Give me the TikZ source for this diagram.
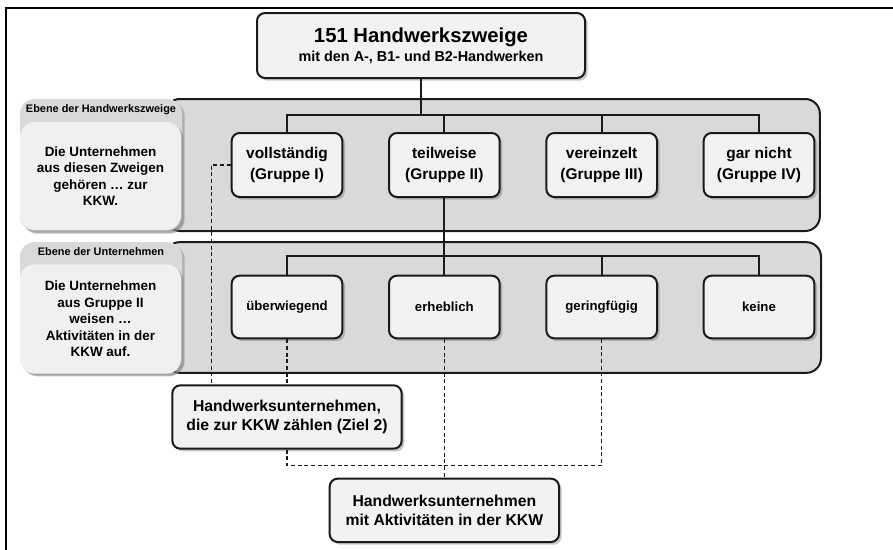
\documentclass[tikz,border=0pt]{standalone}
\usepackage{fontspec}
\setmainfont{Liberation Sans}
\usepackage{tikz}
\usetikzlibrary{positioning,shadows}
\definecolor{bandgray}{HTML}{D9D9D9}
\definecolor{boxgray}{HTML}{F2F2F2}
\definecolor{infogray}{HTML}{F0F0F0}
\definecolor{edge}{HTML}{1A1A1A}
\tikzset{
node distance=118pt, % spacing of the boxes in a row
boxshadow/.style={drop shadow={opacity=0.45,shadow xshift=2pt,shadow yshift=-2pt}},
box/.style={draw=edge, line width=1.5pt, rounded corners=6pt, fill=boxgray, boxshadow, align=center, inner sep=0pt, font=\bfseries},
grp/.style={box, minimum width=83pt, minimum height=48pt, font=\bfseries\fontsize{11.6}{15.5}\selectfont},
firm/.style={box, minimum width=83pt, minimum height=47pt, font=\bfseries\fontsize{9.9}{12}\selectfont},
goal/.style={box, minimum width=172pt, minimum height=47.5pt, font=\bfseries\fontsize{11.8}{14.2}\selectfont},
band/.style={draw=edge, line width=1.5pt, rounded corners=11pt, fill=bandgray, inner sep=0pt},
tab/.style={fill=bandgray, rounded corners=11pt, inner sep=0pt, boxshadow},
info/.style={fill=infogray, rounded corners=11pt, inner sep=0pt, boxshadow, align=center, font=\bfseries\fontsize{10.1}{12.4}\selectfont},
lab/.style={font=\bfseries\fontsize{8.2}{9}\selectfont, inner sep=0pt},
line/.style={draw=edge, line width=1.3pt},
dashline/.style={draw=edge, line width=1.2pt, dash pattern=on 3pt off 2pt},
frame/.style={draw=black, line width=1.5pt},
}
\begin{document}
\begin{tikzpicture}[x=0.75pt,y=-0.75pt,on grid]
		\useasboundingbox (0,0) rectangle (893,550);
		\draw[frame] (6,550) |- (893,8);
		% Ebenen
		\node[band, minimum width=491pt, minimum height=99pt] (band1) at (492.5,165) {};
		\node[tab, minimum width=121.5pt, minimum height=99pt] (tab1) at (101,165) {};
		\node[info, minimum width=120.75pt, minimum height=81pt] (info1) at (100.5,176)
			{Die Unternehmen\\aus diesen Zweigen\\gehören … zur\\KKW.};
		\node[lab] (lab1) at (101,110) {Ebene der Handwerkszweige};
		\node[band, minimum width=492pt, minimum height=98pt] (band2) at (493,307.5) {};
		\node[tab, minimum width=121.5pt, minimum height=98pt] (tab2) at (101,307.5) {};
		\node[info, minimum width=120.75pt, minimum height=82pt] (info2) at (100.5,319)
			{Die Unternehmen\\aus Gruppe II\\weisen …\\Aktivitäten in der\\KKW auf.};
		\node[lab] (lab2) at (101,252) {Ebene der Unternehmen};
		% Kaesten
		\node[box, minimum width=246pt, minimum height=48.75pt] (top) at (421,45.5)
			{{\fontsize{15.2}{18}\selectfont 151 Handwerkszweige}\\[2pt]{\fontsize{10.8}{12}\selectfont mit den A-, B1- und B2-Handwerken}};
		\node[grp] (g1) at (287,165) {vollständig\\(Gruppe I)};
		\node[grp] (g2) [right=of g1] {teilweise\\(Gruppe II)};
		\node[grp] (g3) [right=of g2] {vereinzelt\\(Gruppe III)};
		\node[grp] (g4) [right=of g3] {gar nicht\\(Gruppe IV)};
		\node[firm] (u1) [below=106.5pt of g1] {überwiegend};
		\node[firm] (u2) [right=of u1] {erheblich};
		\node[firm] (u3) [right=of u2] {geringfügig};
		\node[firm] (u4) [right=of u3] {keine};
		\node[goal] (ziel) [below=82.5pt of u1] {Handwerksunternehmen,\\die zur KKW zählen (Ziel 2)};
		\node[goal] (akt) [below=152.5pt of u2] {Handwerksunternehmen\\mit Aktivitäten in der KKW};
		% Verbindungen
		\coordinate (bar1) at ([yshift=12.75pt]g1.north);
		\coordinate (bar2) at ([yshift=14.25pt]u1.north);
		\draw[line] (top.south) -- (top.south |- bar1);
		\draw[line] (g1.north) -- (bar1) -| (g4.north);
		\draw[line] (g2.north) -- (g2.north |- bar1);
		\draw[line] (g3.north) -- (g3.north |- bar1);
		\draw[line] (g2.south) -- (u2.north);
		\draw[line] (u1.north) -- (bar2) -| (u4.north);
		\draw[line] (u3.north) -- (u3.north |- bar2);
		\draw[dashline] (g1.west) -| ([xshift=30pt]ziel.north west);
		\draw[dashline] (u1.south) -- (ziel.north);
		\draw[dashline] (ziel.south) -- ++(0,-12pt) -| (u3.south);
		\draw[dashline] (u2.south) -- (akt.north);
\end{tikzpicture}
\end{document}
